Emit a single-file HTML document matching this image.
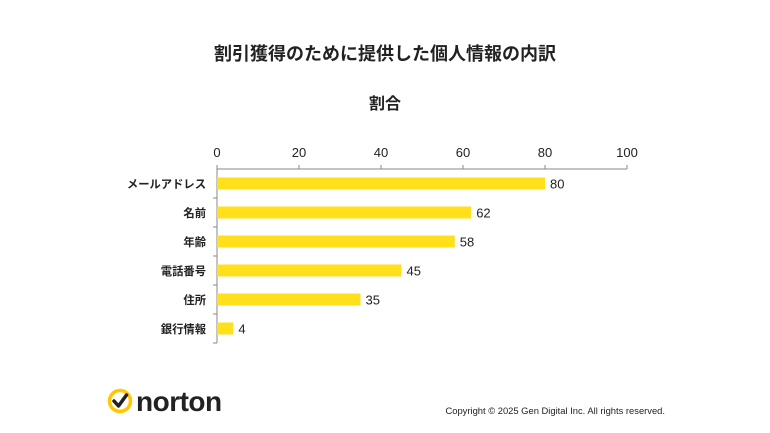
<!DOCTYPE html>
<html><head><meta charset="utf-8"><style>
body{margin:0;background:#fff;width:770px;height:433px;overflow:hidden;font-family:"Liberation Sans","Noto Sans CJK JP",sans-serif}
</style></head><body>
<svg width="770" height="433" style="position:absolute;left:0;top:0">
<text x="385" y="60" text-anchor="middle" font-size="18" font-weight="bold" fill="#222" font-family="Liberation Sans, Noto Sans CJK JP, sans-serif">割引獲得のために提供した個人情報の内訳</text>
<text x="385" y="109" text-anchor="middle" font-size="16" font-weight="bold" fill="#222" font-family="Liberation Sans, Noto Sans CJK JP, sans-serif">割合</text>
<g id="plot"></g>
<g>
<circle cx="120" cy="401" r="10.5" fill="none" stroke="#ffc800" stroke-width="3.5"/>
<path d="M114 401 l4.5 5 l8 -11" fill="none" stroke="#222" stroke-width="3.5" stroke-linecap="round" stroke-linejoin="round"/>
<text x="136" y="411" font-size="28" font-weight="bold" fill="#222" font-family="Liberation Sans, sans-serif" letter-spacing="-0.5">norton</text>
</g>
<text x="665" y="414" text-anchor="end" font-size="9.4" fill="#222">Copyright © 2025 Gen Digital Inc. All rights reserved.</text>
</svg>
<script>
const categories=["メールアドレス","名前","年齢","電話番号","住所","銀行情報"];
const values=[80,62,58,45,35,4];
const ticks=[0,20,40,60,80,100];
const x0=217,x1=627,yTop=169,rowH=29;
const xs=v=>x0+(x1-x0)*v/100;
const ys=i=>yTop+rowH*i;
const g=document.getElementById('plot');
const NS='http://www.w3.org/2000/svg';
function mk(t,a){const e=document.createElementNS(NS,t);for(const k in a)e.setAttribute(k,a[k]);g.appendChild(e);return e;}
let ax=mk('line',{x1:x0,x2:x1,y1:yTop,y2:yTop,stroke:'#888','stroke-width':1});


let ay=mk('line',{x1:x0,x2:x0,y1:yTop,y2:ys(categories.length),stroke:'#888','stroke-width':1});


ticks.forEach(t=>{
 mk('line',{x1:xs(t),x2:xs(t),y1:yTop-4,y2:yTop,stroke:'#888'});
 const tx=mk('text',{x:xs(t),y:yTop-12,'text-anchor':'middle','font-size':13,fill:'#222'});
 tx.textContent=t;
 
 
});
categories.forEach((c,i)=>{
 mk('line',{x1:x0-4,x2:x0,y1:ys(i+1),y2:ys(i+1),stroke:'#888'});
 const cy=ys(i)+rowH/2;
 const b=mk('rect',{x:x0,y:cy-6,width:xs(values[i])-x0,height:12,fill:'#ffe01b'});
 
 
 const l=mk('text',{x:x0-11,y:cy+4.5,'text-anchor':'end','font-size':11.3,'font-weight':'bold',fill:'#222'});
 l.textContent=c;
 
 
 const v=mk('text',{x:xs(values[i])+5,y:cy+5,'font-size':13,fill:'#222'});
 v.textContent=values[i];
 
 
});
</script>
</body></html>
